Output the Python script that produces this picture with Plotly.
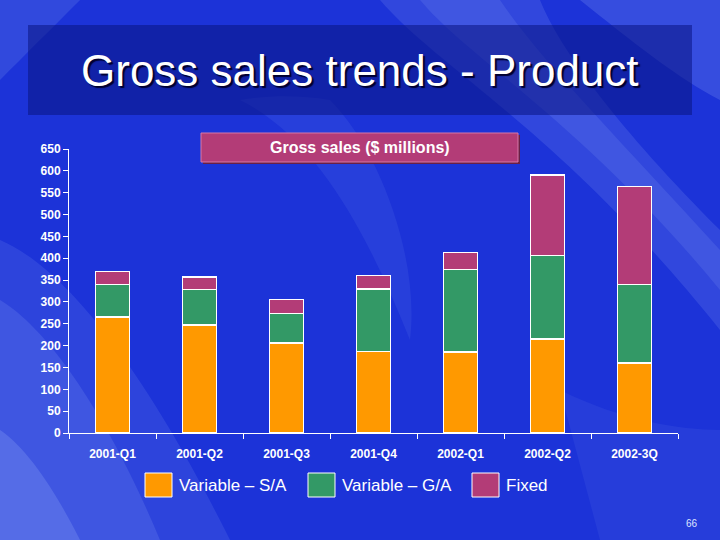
import plotly.graph_objects as go

quarters = ["2001-Q1", "2001-Q2", "2001-Q3", "2001-Q4", "2002-Q1", "2002-Q2", "2002-3Q"]
variable_sa = [265, 247, 206, 187, 185, 215, 160]
variable_ga = [75, 82, 68, 143, 189, 191, 180]
fixed = [30, 28, 32, 30, 39, 184, 224]
series_names = ["Variable \u2013 S/A", "Variable \u2013 G/A", "Fixed"]
series_colors = ["#FF9900", "#339966", "#B33C77"]
y_ticks = list(range(0, 651, 50))

W, H = 720, 540
L, R, T, B = 69, 42, 149, 107


# pixel -> paper coords (paper is the plot area)
def px(x):
    return (x - L) / (W - L - R)


def py(y):
    return (H - B - y) / (H - T - B)


def curve(start, segs):
    # segs: list of (c1, c2, end) cubic bezier points in pixels
    s = "M %.4f %.4f" % (px(start[0]), py(start[1]))
    for c1, c2, e in segs:
        s += " C " + ", ".join("%.4f %.4f" % (px(p[0]), py(p[1])) for p in (c1, c2, e))
    return s + " Z"


fig = go.Figure()
for name, vals, col in zip(series_names, [variable_sa, variable_ga, fixed], series_colors):
    fig.add_trace(go.Bar(x=quarters, y=vals, name=name, marker_color=col,
                         marker_line=dict(color="white", width=1.5), showlegend=False))

shapes = []
# soft light streaks in the background
swirls = [
    # big diagonal streak top-middle to right
    ((380, 0), [((440, 70), (560, 130), (720, 330)), ((720, 300), (720, 260), (720, 230)),
                ((620, 130), (560, 50), (540, 0))], 0.14),
    ((420, 0), [((470, 60), (580, 120), (720, 290)), ((720, 270), (720, 260), (720, 250)),
                ((620, 140), (540, 60), (500, 0))], 0.12),
    # top-right corner glow
    ((580, 0), [((630, 40), (680, 80), (720, 100)), ((720, 60), (720, 30), (720, 0)),
                ((680, 0), (620, 0), (580, 0))], 0.18),
    # bottom-left streaks
    ((0, 240), [((70, 270), (150, 380), (230, 540)), ((150, 540), (80, 540), (0, 540)),
                ((0, 400), (0, 300), (0, 240))], 0.12),
    ((0, 300), [((50, 330), (110, 420), (160, 540)), ((100, 540), (50, 540), (0, 540)),
                ((0, 450), (0, 380), (0, 300))], 0.14),
    ((0, 430), [((30, 450), (60, 500), (80, 540)), ((50, 540), (20, 540), (0, 540)),
                ((0, 500), (0, 460), (0, 430))], 0.2),
    # middle faint streak
    ((240, 100), [((320, 140), (370, 240), (410, 340)), ((420, 260), (380, 150), (330, 100)),
                  ((300, 95), (270, 95), (240, 100))], 0.08),
    # top-left glow
    ((0, 0), [((30, 0), (60, 0), (80, 0)), ((50, 30), (25, 55), (0, 80)),
              ((0, 50), (0, 20), (0, 0))], 0.15),
    # bottom-right faint
    ((560, 390), [((620, 420), (680, 430), (720, 430)), ((720, 480), (720, 520), (720, 540)),
                  ((660, 540), (620, 540), (600, 540))], 0.07),
]
for start, segs, op in swirls:
    shapes.append(dict(type="path", path=curve(start, segs), xref="paper", yref="paper",
                       fillcolor="rgb(175,200,255)", opacity=op, line_width=0, layer="below"))
# title box
shapes.append(dict(type="rect", xref="paper", yref="paper", x0=px(28), x1=px(692), y0=py(115), y1=py(25),
                   fillcolor="rgba(10,20,130,0.55)", line_width=0, layer="below"))
# subtitle box with shadow
shapes.append(dict(type="rect", xref="paper", yref="paper", x0=px(203), x1=px(520), y0=py(164), y1=py(135),
                   fillcolor="#6a1f45", line_width=0))
shapes.append(dict(type="rect", xref="paper", yref="paper", x0=px(201), x1=px(518), y0=py(162), y1=py(133),
                   fillcolor="#B33C77", line=dict(color="#d678a8", width=1)))

annotations = [
    dict(text="Gross sales trends - Product", x=px(360), y=py(71), xref="paper", yref="paper",
         xanchor="center", yanchor="middle", showarrow=False,
         font=dict(family="Liberation Sans", size=44, color="white", shadow="2px 2px 1px #000030")),
    dict(text="<b>Gross sales ($ millions)</b>", x=px(360), y=py(148), xref="paper", yref="paper",
         xanchor="center", yanchor="middle", showarrow=False,
         font=dict(family="Liberation Sans", size=16, color="white")),
    dict(text="66", x=px(692), y=py(523), xref="paper", yref="paper", showarrow=False,
         xanchor="center", yanchor="middle",
         font=dict(family="Liberation Sans", size=10, color="#dde4ff")),
]

# legend drawn by hand to get the large swatches
leg_x = [145, 308, 472]
for name, col, x0 in zip(series_names, series_colors, leg_x):
    shapes.append(dict(type="rect", xref="paper", yref="paper", x0=px(x0), x1=px(x0 + 27),
                       y0=py(497), y1=py(473), fillcolor=col, line=dict(color="white", width=1)))
    annotations.append(dict(text=name, x=px(x0 + 32), y=py(485), xref="paper", yref="paper",
                            xanchor="left", yanchor="middle", showarrow=False,
                            font=dict(family="Liberation Sans", size=17, color="white")))

fig.update_layout(
    width=W, height=H,
    margin=dict(l=L, r=R, t=T, b=B),
    barmode="stack", bargap=0.61,
    paper_bgcolor="#1c33d8", plot_bgcolor="rgba(0,0,0,0)",
    font=dict(family="Liberation Sans", color="white", size=12),
    shapes=shapes, annotations=annotations,
    xaxis=dict(showline=True, linecolor="white", linewidth=1, ticks="outside", tickson="boundaries",
               tickcolor="white", ticklen=5, showgrid=False, ticklabelstandoff=10,
               tickfont=dict(size=12, color="white", weight="bold")),
    yaxis=dict(range=[0, 650], tickvals=y_ticks, showline=True, linecolor="white", linewidth=1,
               ticks="outside", tickcolor="white", ticklen=5, showgrid=False, zeroline=False,
               tickfont=dict(size=12, color="white", weight="bold")),
)

fig.write_html("out.html", config={"displayModeBar": False},
               post_script="document.body.style.margin='0';")
